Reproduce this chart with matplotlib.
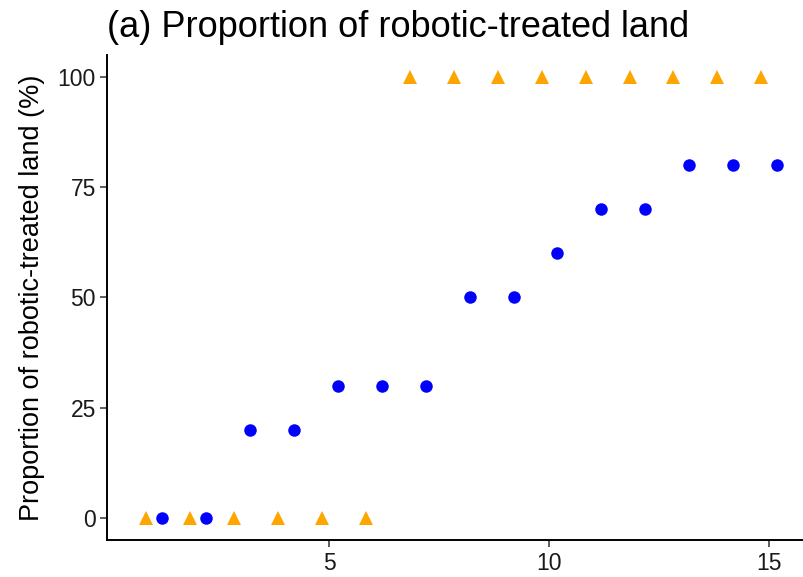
import numpy as np
import matplotlib.pyplot as plt

plt.rcParams['font.family'] = ['Liberation Sans', 'DejaVu Sans']

# data
steps = np.arange(1, 16)
robot_only = [0, 0, 0, 0, 0, 0, 100, 100, 100, 100, 100, 100, 100, 100, 100]
mixed = [0, 0, 20, 20, 30, 30, 30, 50, 50, 60, 70, 70, 80, 80, 80]

fig = plt.figure(figsize=(8.04, 5.77), dpi=100)
ax = fig.add_axes([107 / 804, 1 - 540.4 / 577, (804 - 107) / 804, (540.4 - 54.6) / 577])

ax.plot(steps - 0.17, robot_only, linestyle='none', marker='^', markersize=10.5,
        color='#FFA500', markeredgewidth=0, clip_on=False)
ax.plot(steps + 0.19, mixed, linestyle='none', marker='o', markersize=9,
        color='#0000FF', markeredgewidth=0, clip_on=False)

ax.set_xlim(-0.06, 15.8)
ax.set_ylim(-5, 105)
ax.set_xticks([5, 10, 15])
ax.set_yticks([0, 25, 50, 75, 100])

for side in ['top', 'right']:
    ax.spines[side].set_visible(False)
for side in ['left', 'bottom']:
    ax.spines[side].set_linewidth(1.4)
    ax.spines[side].set_color('black')
ax.tick_params(length=5, width=1.1, labelsize=16.5, colors='#333333', labelcolor='#1a1a1a', pad=3)

ax.set_ylabel('Proportion of robotic-treated land (%)', fontsize=19.5, color='black', labelpad=9)
ax.set_title('(a) Proportion of robotic-treated land', fontsize=26, loc='left', pad=13)

fig.savefig('out.png', dpi=100)
